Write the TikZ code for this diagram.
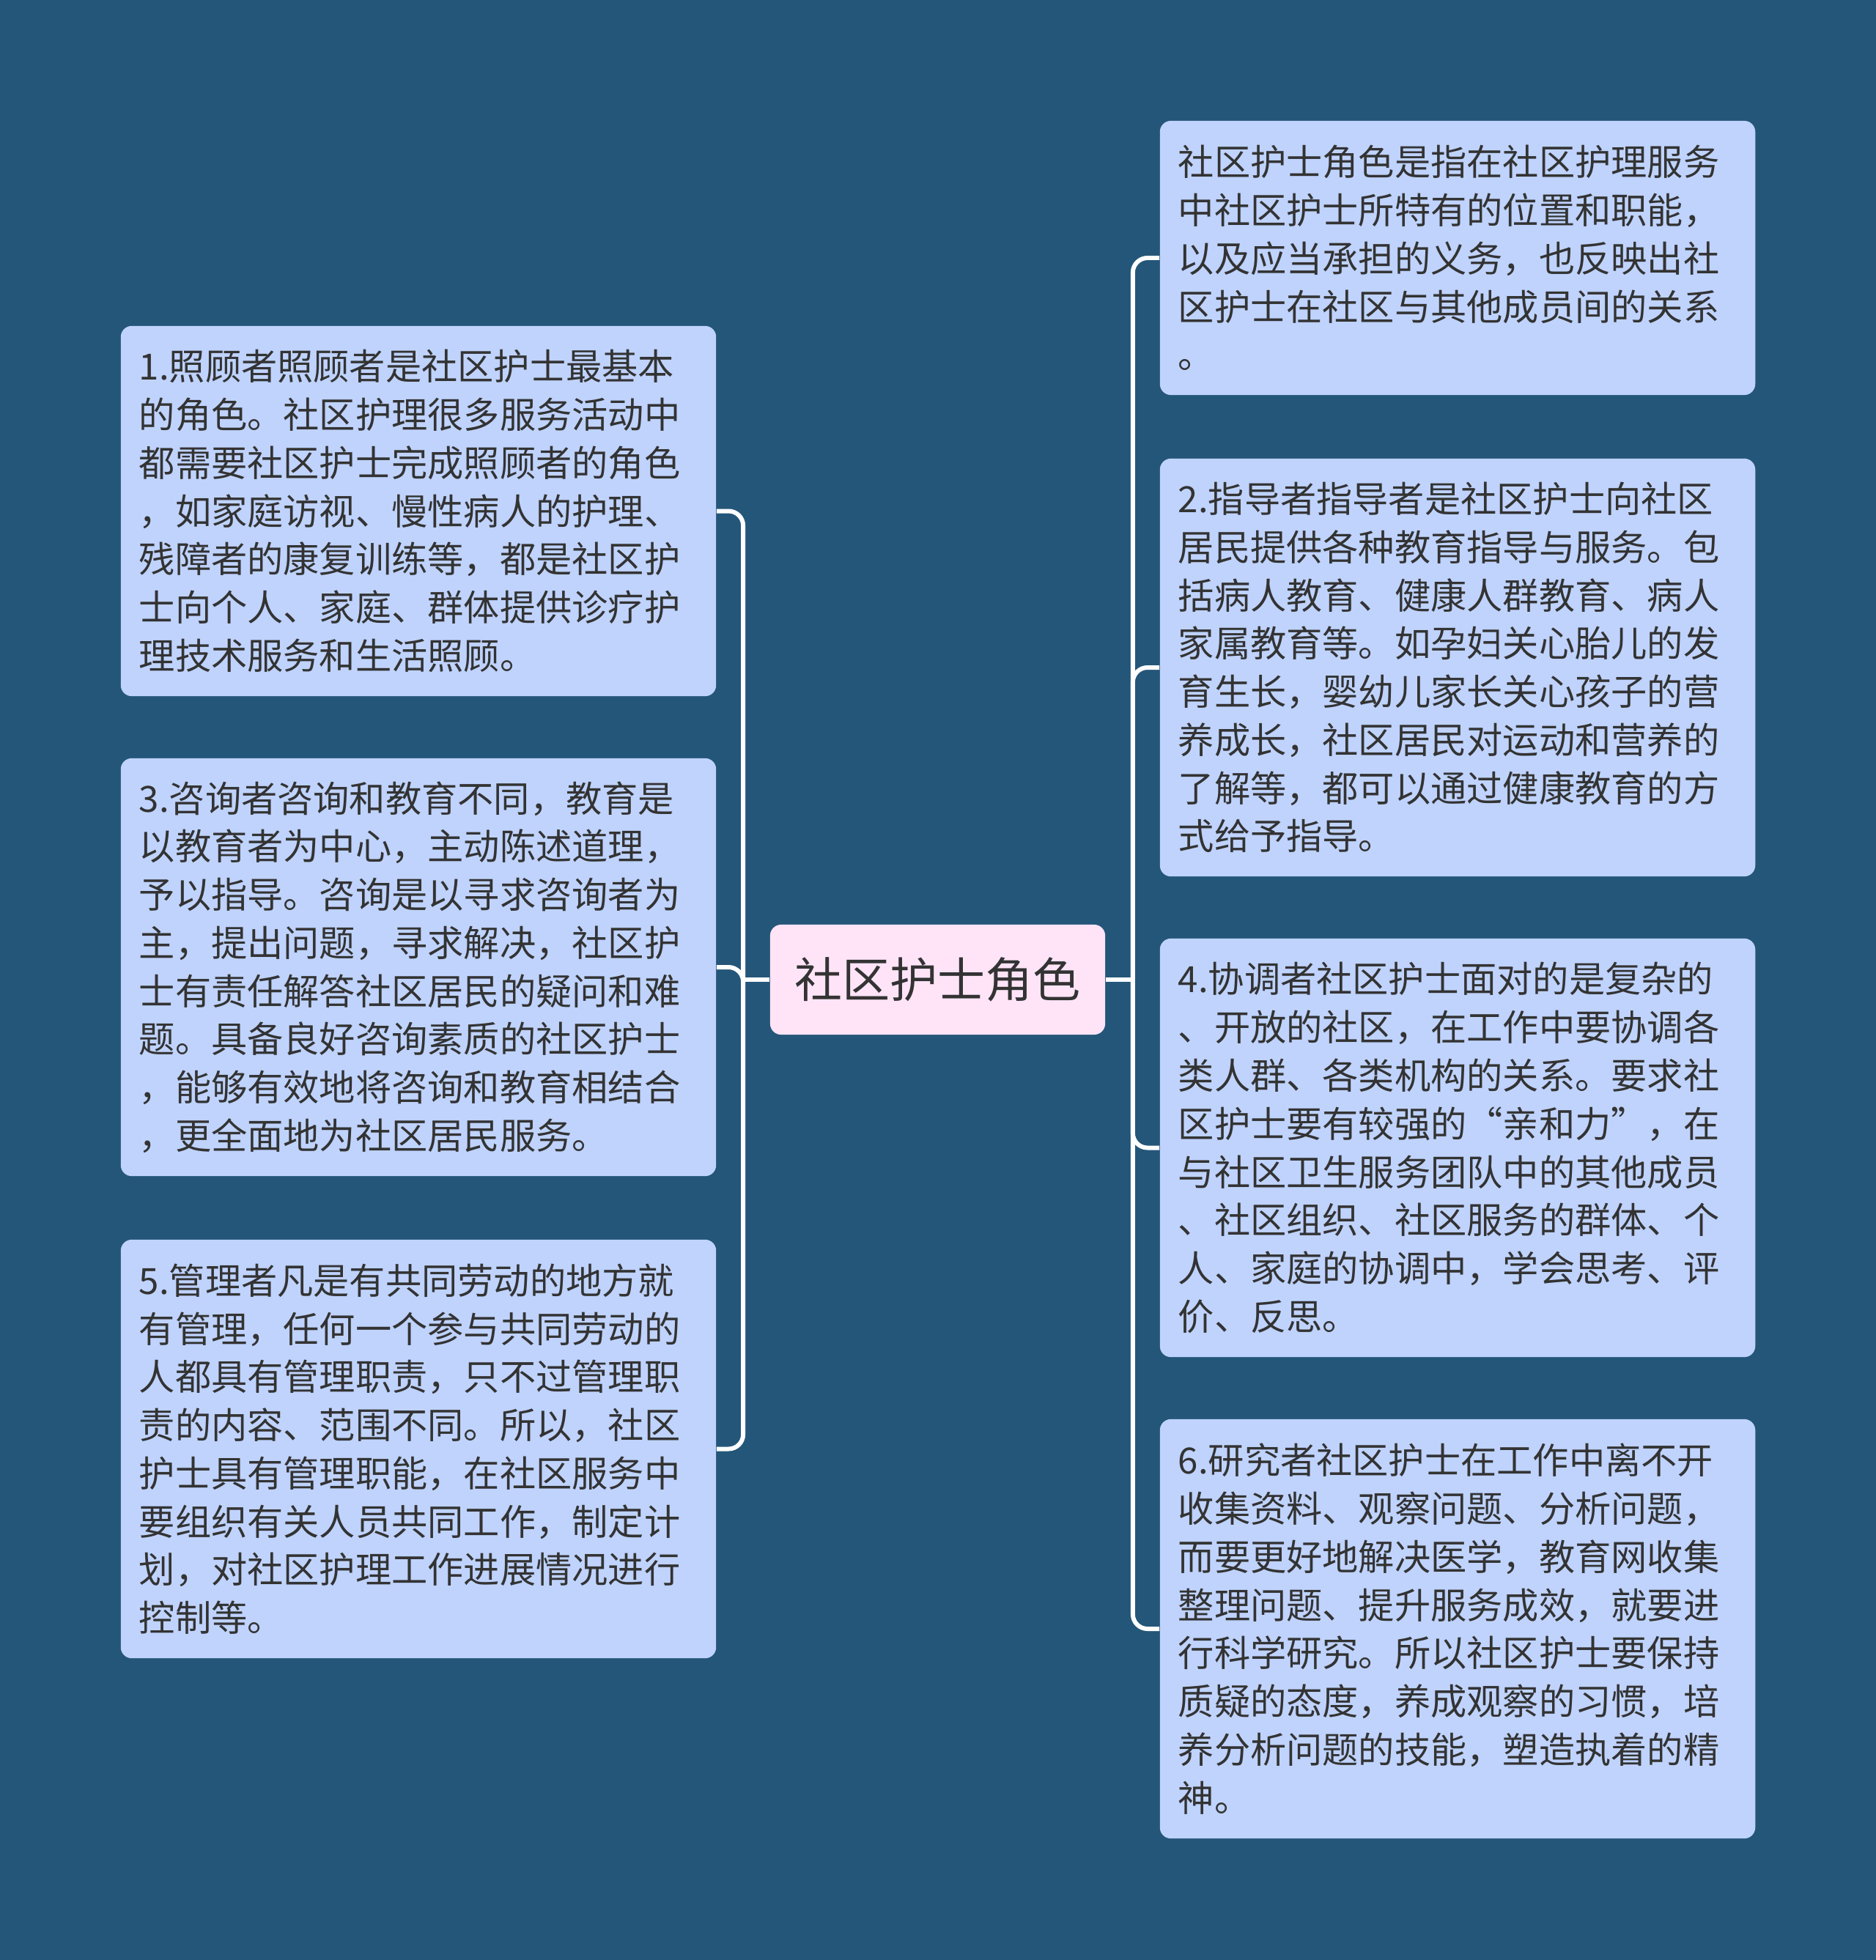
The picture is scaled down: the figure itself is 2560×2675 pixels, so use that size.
\documentclass[tikz,border=0pt]{standalone}
\usepackage{fontspec}
\usepackage{tikz}
\usetikzlibrary{positioning}
\newfontfamily\cjk{Noto Sans CJK SC}
\definecolor{bgblue}{HTML}{245679}
\definecolor{boxblue}{HTML}{BFD3FD}
\definecolor{rootpink}{HTML}{FFE4F8}
\definecolor{txtgray}{HTML}{333333}

\begin{document}
\begin{tikzpicture}[
        x=0.01cm, y=-0.01cm,
        role/.style={draw=none, fill=boxblue, rounded corners=1.5mm, align=left, text width=7.62cm,
            inner xsep=0.25cm, inner ysep=0pt, minimum width=8.12cm, text=txtgray,
            font=\cjk\fontsize{14}{18.7}\selectfont},
        root/.style={draw=none, fill=rootpink, rounded corners=1.5mm, minimum width=4.57cm,
            minimum height=1.5cm, text=txtgray, font=\cjk\fontsize{18.5}{22}\selectfont},
        link/.style={draw=white, line width=1.7pt, rounded corners=2mm}
    ]
        \fill[bgblue] (0,0) rectangle (2560,2675);
        \useasboundingbox (0,0) rectangle (2560,2675);

        \node[root] (root) at (1279.5,1337) {社区护士角色};

        % right column
        \node[role, minimum height=3.74cm] (def) at (1989,352) {社区护士角色是指在社区护理服务\\中社区护士所特有的位置和职能，\\以及应当承担的义务，也反映出社\\区护士在社区与其他成员间的关系\\。};
        \node[role, minimum height=5.70cm] (r2) at (1989,911) {2.指导者指导者是社区护士向社区\\居民提供各种教育指导与服务。包\\括病人教育、健康人群教育、病人\\家属教育等。如孕妇关心胎儿的发\\育生长，婴幼儿家长关心孩子的营\\养成长，社区居民对运动和营养的\\了解等，都可以通过健康教育的方\\式给予指导。};
        \node[role, minimum height=5.71cm] (r4) at (1989,1566.5) {4.协调者社区护士面对的是复杂的\\、开放的社区，在工作中要协调各\\类人群、各类机构的关系。要求社\\区护士要有较强的“亲和力”，在\\与社区卫生服务团队中的其他成员\\、社区组织、社区服务的群体、个\\人、家庭的协调中，学会思考、评\\价、反思。};
        \node[role, minimum height=5.72cm] (r6) at (1989,2223) {6.研究者社区护士在工作中离不开\\收集资料、观察问题、分析问题，\\而要更好地解决医学，教育网收集\\整理问题、提升服务成效，就要进\\行科学研究。所以社区护士要保持\\质疑的态度，养成观察的习惯，培\\养分析问题的技能，塑造执着的精\\神。};

        % left column
        \node[role, minimum height=5.05cm] (r1) at (571,697.5) {1.照顾者照顾者是社区护士最基本\\的角色。社区护理很多服务活动中\\都需要社区护士完成照顾者的角色\\，如家庭访视、慢性病人的护理、\\残障者的康复训练等，都是社区护\\士向个人、家庭、群体提供诊疗护\\理技术服务和生活照顾。};
        \node[role, minimum height=5.70cm] (r3) at (571,1320) {3.咨询者咨询和教育不同，教育是\\以教育者为中心，主动陈述道理，\\予以指导。咨询是以寻求咨询者为\\主，提出问题，寻求解决，社区护\\士有责任解答社区居民的疑问和难\\题。具备良好咨询素质的社区护士\\，能够有效地将咨询和教育相结合\\，更全面地为社区居民服务。};
        \node[role, minimum height=5.71cm] (r5) at (571,1977.5) {5.管理者凡是有共同劳动的地方就\\有管理，任何一个参与共同劳动的\\人都具有管理职责，只不过管理职\\责的内容、范围不同。所以，社区\\护士具有管理职能，在社区服务中\\要组织有关人员共同工作，制定计\\划，对社区护理工作进展情况进行\\控制等。};

        \draw[link] (root.west) -- ++(-36,0) coordinate (lj);
        \draw[link] (root.east) -- ++(37,0) coordinate (rj);
        \foreach \b in {r1,r3,r5}
            \draw[link] (lj) |- (\b.east);
        \foreach \b in {def,r2,r4,r6}
            \draw[link] (rj) |- (\b.west);
    \end{tikzpicture}
\end{document}
